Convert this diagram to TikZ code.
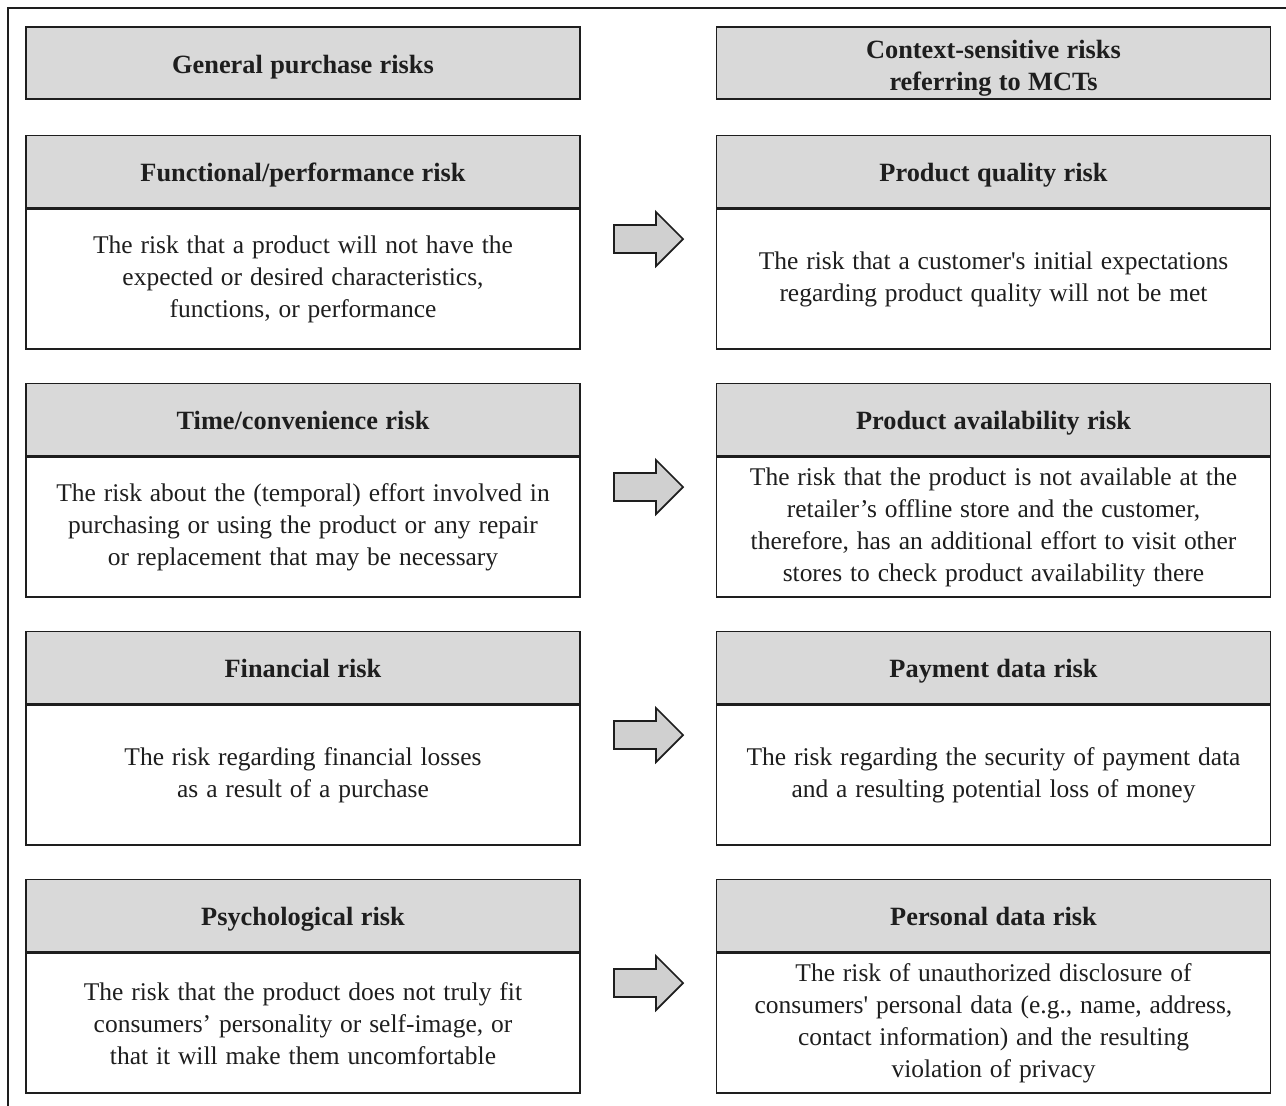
\documentclass[tikz,border=0pt]{standalone}
\usepackage{fontspec}
\setmainfont{Liberation Serif}
\usetikzlibrary{positioning,calc}
\definecolor{hdr}{RGB}{217,217,217}
\definecolor{arw}{RGB}{208,208,208}
\definecolor{ink}{RGB}{30,30,30}
\newcommand{\bodyfont}{\fontsize{14.5}{18.2}\selectfont\spaceskip=0.31em plus 0.1em minus 0.05em\relax}
\newcommand{\headfont}{\fontsize{15}{18.2}\selectfont\bfseries\spaceskip=0.28em\relax}
\tikzset{
  head/.style={draw=ink,line width=1pt,fill=hdr,minimum width=11.08cm,minimum height=1.44cm,
    inner sep=0pt,font=\headfont,align=center,text=ink,text height=11.4pt,text depth=0pt},
  body/.style={draw=ink,line width=1pt,fill=white,minimum width=11.08cm,minimum height=2.8cm,
    inner sep=0pt,font=\bodyfont,align=center,text=ink},
  blockarr/.style={draw=ink,line width=1pt,fill=arw,line join=miter},
}
\begin{document}
\begin{tikzpicture}[x=0.02cm,y=-0.02cm]
  \useasboundingbox (0,0) rectangle (1286,1106);
  % outer frame (cut at right and bottom)
  \draw[ink,line width=0.8pt] (8,1106) -- (8,8) -- (1286,8);
  % column headers
  \node[head] (gh) at (303,63) {General purchase risks};
  \node[head,text height=30.8pt] (ch) at (993.5,63) {Context-sensitive risks\\referring to MCTs};
  \foreach \k/\gtitle/\gtext/\ctitle/\ctext in {
    0/{Functional/performance risk}/{The risk that a product will not have the\\expected or desired characteristics,\\functions, or performance}/{Product quality risk}/{The risk that a customer\textquotesingle s initial expectations\\regarding product quality will not be met},
    1/{Time/convenience risk}/{The risk about the (temporal) effort involved in\\purchasing or using the product or any repair\\or replacement that may be necessary}/{Product availability risk}/{The risk that the product is not available at the\\retailer’s offline store and the customer,\\therefore, has an additional effort to visit other\\stores to check product availability there},
    2/{Financial risk}/{The risk regarding financial losses\\as a result of a purchase}/{Payment data risk}/{The risk regarding the security of payment data\\and a resulting potential loss of money},
    3/{Psychological risk}/{The risk that the product does not truly fit\\consumers’ personality or self-image, or\\that it will make them uncomfortable}/{Personal data risk}/{The risk of unauthorized disclosure of\\consumers\textquotesingle\ personal data (e.g., name, address,\\contact information) and the resulting\\violation of privacy}} {
    \node[head] (gt\k) at (303,{171.5+248*\k}) {\gtitle};
    \node[body,below=0pt of gt\k] (gb\k) {\gtext};
    \node[head] (ct\k) at (993.5,{171.5+248*\k}) {\ctitle};
    \node[body,below=0pt of ct\k] (cb\k) {\ctext};
    % block arrow between the columns
    \coordinate (a\k) at (614,{239+248*\k});
    \draw[blockarr] (a\k) -- ++(0,-14) -- ++(42,0) -- ++(0,-13) -- ++(27,27)
      -- ++(-27,27) -- ++(0,-13) -- ++(-42,0) -- cycle;
  }
\end{tikzpicture}
\end{document}
